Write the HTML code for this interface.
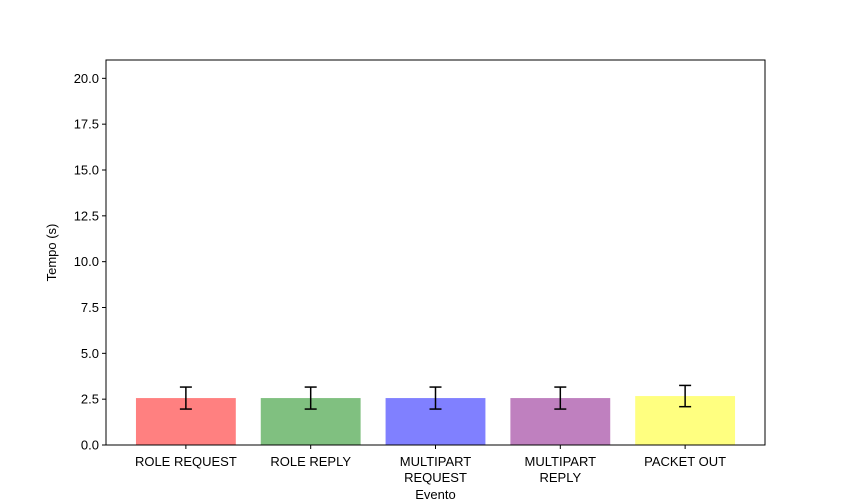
<!DOCTYPE html>
<html><head><meta charset="utf-8"><style>
body{margin:0;background:#fff;}
svg{display:block;font-family:"Liberation Sans","DejaVu Sans",sans-serif;}
</style></head><body>
<svg id="chart" width="850" height="500"></svg>
<script>
const categories=[["ROLE REQUEST"],["ROLE REPLY"],["MULTIPART","REQUEST"],["MULTIPART","REPLY"],["PACKET OUT"]];
const values=[2.56,2.56,2.56,2.56,2.67];
const errors=[0.6,0.6,0.6,0.6,0.58];
const colors=["#ff8080","#80c080","#8080ff","#bf80bf","#ffff80"];
const yTicks=[0,2.5,5,7.5,10,12.5,15,17.5,20];
const L=106,R=765,T=60,B=445,ymax=21,xmin=-0.64,xmax=4.64;
const sx=v=>L+(v-xmin)/(xmax-xmin)*(R-L);
const sy=v=>B-v/ymax*(B-T);
const svg=document.getElementById('chart');
const NS="http://www.w3.org/2000/svg";
function mk(t,a,p){const e=document.createElementNS(NS,t);for(const k in a)e.setAttribute(k,a[k]);(p||svg).appendChild(e);return e;}
values.forEach((v,i)=>{
 const r=mk('rect',{x:sx(i-0.4),y:sy(v),width:sx(i+0.4)-sx(i-0.4),height:sy(0)-sy(v),fill:colors[i]});
 
 
 const g=mk('g',{stroke:'#000','stroke-width':1.5});
 
 
 const c=sx(i);
 mk('line',{x1:c,x2:c,y1:sy(v-errors[i]),y2:sy(v+errors[i])},g);
 mk('line',{x1:c-6,x2:c+6,y1:sy(v-errors[i]),y2:sy(v-errors[i])},g);
 mk('line',{x1:c-6,x2:c+6,y1:sy(v+errors[i]),y2:sy(v+errors[i])},g);
 mk('line',{x1:c,x2:c,y1:B,y2:B+4,stroke:'#000'});
 categories[i].forEach((s,j)=>{
  const t=mk('text',{x:c,y:B+21+j*16,'text-anchor':'middle','font-size':13});
  t.textContent=s;
  
  
 });
});
yTicks.forEach(v=>{
 mk('line',{x1:L-4,x2:L,y1:sy(v),y2:sy(v),stroke:'#000'});
 const t=mk('text',{x:L-7,y:sy(v)+4.5,'text-anchor':'end','font-size':13});
 t.textContent=v.toFixed(1);
 
 
});
const f=mk('rect',{x:L,y:T,width:R-L,height:B-T,fill:'none',stroke:'#000','stroke-width':1});


const yl=mk('text',{x:56,y:(T+B)/2,'text-anchor':'middle','font-size':13,transform:`rotate(-90 56 ${(T+B)/2})`});
yl.textContent='Tempo (s)';


const xl=mk('text',{x:(L+R)/2,y:499,'text-anchor':'middle','font-size':13});
xl.textContent='Evento';


</script>
</body></html>
